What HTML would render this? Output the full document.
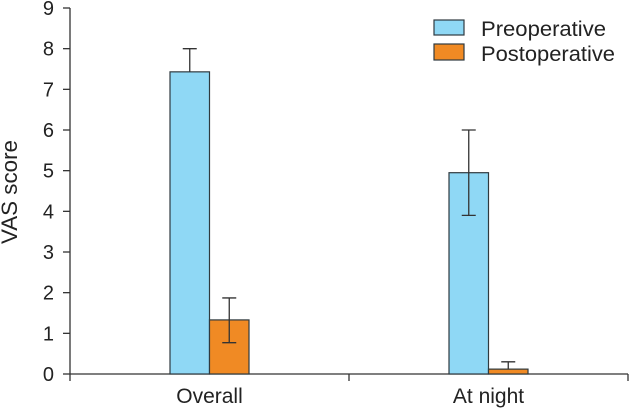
<!DOCTYPE html>
<html><head><meta charset="utf-8"><style>
body{margin:0;background:#fff}
svg{display:block;font-family:"Liberation Sans",Arial,sans-serif}
</style></head><body>
<svg id="chart" width="629" height="411" xmlns="http://www.w3.org/2000/svg">
<g id="axes"></g>
<g id="bars"></g>
<text transform="translate(17,192) rotate(-90)" text-anchor="middle" font-size="22" fill="#222" textLength="104" lengthAdjust="spacingAndGlyphs">VAS score</text>
<g>
<rect x="434" y="20" width="30" height="15" fill="#8fd8f5" stroke="#2f3a3f" stroke-width="1.2"/>
<text x="481" y="36" font-size="21" fill="#222" textLength="125" lengthAdjust="spacingAndGlyphs">Preoperative</text>
<rect x="434" y="44" width="30" height="16" fill="#f08a24" stroke="#2f3a3f" stroke-width="1.2"/>
<text x="481" y="61" font-size="21" fill="#222" textLength="134" lengthAdjust="spacingAndGlyphs">Postoperative</text>
</g>
</svg>
<script>
const categories=["Overall","At night"];
const preValues=[7.43,4.95];
const preErrLow=[7.43,3.9];
const preErrHigh=[8.0,6.0];
const postValues=[1.33,0.12];
const postErrLow=[0.77,0.12];
const postErrHigh=[1.87,0.3];
const yTicks=[0,1,2,3,4,5,6,7,8,9];
const NS="http://www.w3.org/2000/svg";
const x0=70,x1=628,y0=374,yTop=8,yMax=9;
const y=v=>y0-(v/yMax)*(y0-yTop);
const band=(x1-x0)/categories.length;
const cx=i=>x0+band*(i+0.5);
const bw=39.5;
function mk(tag,attrs,parent){const e=document.createElementNS(NS,tag);for(const k in attrs)e.setAttribute(k,attrs[k]);parent.appendChild(e);return e;}
const axes=document.getElementById('axes'),bars=document.getElementById('bars');
const stroke="#333";
let l=mk('line',{x1:x0,y1:yTop,x2:x0,y2:y0,stroke:stroke,'stroke-width':1.3},axes);


l=mk('line',{x1:x0,y1:y0,x2:x1,y2:y0,stroke:stroke,'stroke-width':1.3},axes);


yTicks.forEach(t=>{
 const tk=mk('line',{x1:x0-7,y1:y(t),x2:x0,y2:y(t),stroke:stroke,'stroke-width':1.3},axes);
 
 
 const tx=mk('text',{x:x0-16,y:y(t)+7,'text-anchor':'end','font-size':20,fill:'#222'},axes);
 tx.textContent=t;
 
 
});
for(let i=0;i<=categories.length;i++){
 const xx=x0+band*i;
 const tk=mk('line',{x1:xx,y1:y0,x2:xx,y2:y0+7,stroke:stroke,'stroke-width':1.3},axes);
 
 
}
categories.forEach((c,i)=>{
 const tx=mk('text',{x:cx(i),y:403,'text-anchor':'middle','font-size':21,fill:'#222'},axes);
 tx.textContent=c;
 
 
 const series=[[preValues,preErrLow,preErrHigh,'#8fd8f5','preoperative',-bw],[postValues,postErrLow,postErrHigh,'#f08a24','postoperative',0]];
 series.forEach(s=>{
  const v=s[0][i],bx=cx(i)+s[5];
  const r=mk('rect',{x:bx,y:y(v),width:bw,height:y0-y(v),fill:s[3],stroke:'#2f3a3f','stroke-width':1.2},bars);
  
  
  const mx=bx+bw/2;
  const e=mk('path',{d:`M${mx},${y(s[1][i])}V${y(s[2][i])}M${mx-7},${y(s[2][i])}H${mx+7}`+(s[1][i]<v?`M${mx-7},${y(s[1][i])}H${mx+7}`:''),stroke:'#333','stroke-width':1.3,fill:'none'},bars);
  
  
 });
});
</script>
</body></html>
